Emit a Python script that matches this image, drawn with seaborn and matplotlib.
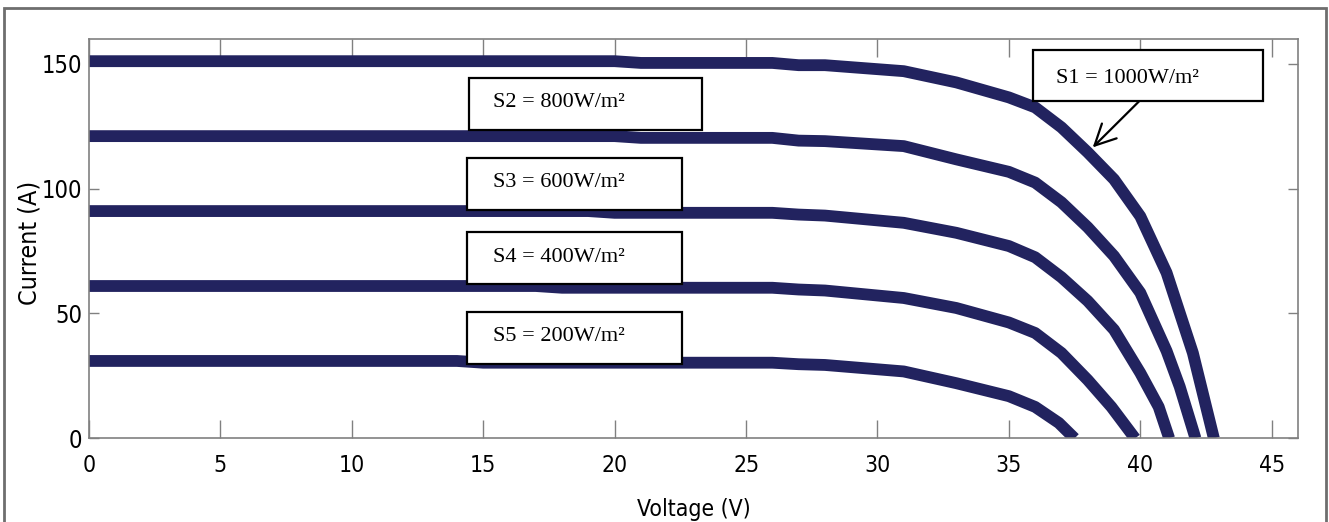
import matplotlib
matplotlib.use("Agg")
import matplotlib.pyplot as plt
from matplotlib.patches import Rectangle
import numpy as np
import pandas as pd
import seaborn as sns

# -------------------------------------------------------------------------
# DATA: I-V curves (voltage in V, current in A)
# -------------------------------------------------------------------------
v_s1 = [0, 20, 21, 26, 27, 28, 31, 33, 35, 36, 37, 38, 39, 40, 41, 42, 42.8]
i_s1 = [151, 151, 150.3, 150.3, 149.4, 149.4, 147, 142.5, 136.5, 132.5,
        124.5, 114.5, 103.7, 88.9, 66.3, 34.2, 0]

v_s2 = [0, 20, 21, 26, 27, 28, 31, 33, 35, 36, 37, 38, 39, 40, 41, 41.5, 42.1]
i_s2 = [121, 121, 120.3, 120.3, 119.2, 119, 117, 111.7, 106.7, 102.4,
        94.5, 84.5, 73, 58.3, 35, 20.7, 0]

v_s3 = [0, 19, 20, 26, 27, 28, 31, 33, 35, 36, 37, 38, 39, 40, 40.7, 41.1]
i_s3 = [91, 91, 90.3, 90.3, 89.6, 89.2, 86.3, 82.3, 77, 72.5, 64.5, 55,
        43.5, 26.2, 12.6, 0]

v_s4 = [0, 17, 18, 26, 27, 28, 31, 33, 35, 36, 37, 38, 38.9, 39.8]
i_s4 = [61, 61, 60.3, 60.3, 59.6, 59.2, 56.2, 52.2, 46.4, 42.2, 34.2, 23.4,
        12.6, 0]

v_s5 = [0, 14, 15, 26, 27, 28, 31, 33, 35, 36, 36.9, 37.5]
i_s5 = [31, 31, 30.3, 30.3, 29.7, 29.4, 26.8, 22.1, 16.9, 12.6, 6.2, 0]

series_names = ["S1", "S2", "S3", "S4", "S5"]
labels = ["S1 = 1000W/m²", "S2 = 800W/m²", "S3 = 600W/m²",
          "S4 = 400W/m²", "S5 = 200W/m²"]
x_ticks = [0, 5, 10, 15, 20, 25, 30, 35, 40, 45]
y_ticks = [0, 50, 100, 150]

frames = []
for name, v, i in zip(series_names,
                      [v_s1, v_s2, v_s3, v_s4, v_s5],
                      [i_s1, i_s2, i_s3, i_s4, i_s5]):
    frames.append(pd.DataFrame({"Voltage": v, "Current": i, "Series": name}))
df = pd.concat(frames, ignore_index=True)

# -------------------------------------------------------------------------
# LAYOUT (label boxes in data coords: x0, y0, x1, y1, text x, text y)
# -------------------------------------------------------------------------
boxes = [
    (35.91, 134.9, 44.67, 155.5, 36.78, 144.0),
    (14.47, 123.4, 23.31, 144.2, 15.38, 134.5),
    (14.39, 91.3, 22.58, 112.1, 15.38, 102.5),
    (14.39, 61.9, 22.58, 82.8, 15.38, 72.6),
    (14.39, 29.9, 22.58, 50.7, 15.38, 40.6),
]
LINE_COLOR = "#22235f"
AX_GRAY = "#808080"

sns.set_theme(style="ticks")
plt.rcParams["font.family"] = ["DejaVu Sans"]
plt.rcParams["font.stretch"] = "condensed"
plt.rcParams["text.color"] = "black"
plt.rcParams["axes.labelcolor"] = "black"

fig = plt.figure(figsize=(13.29, 5.22), dpi=100)
ax = fig.add_axes([89 / 1329, 1 - 438.4 / 522, 1209 / 1329, 399.7 / 522])

sns.lineplot(data=df, x="Voltage", y="Current", units="Series",
             estimator=None, sort=False, color=LINE_COLOR, lw=8.5,
             solid_capstyle="butt", ax=ax, zorder=2)

ax.set_xlim(0, 46)
ax.set_ylim(0, 160)
ax.set_xticks(x_ticks)
ax.set_yticks(y_ticks)

for side in ["left", "right", "top", "bottom"]:
    ax.spines[side].set_visible(True)
    ax.spines[side].set_color(AX_GRAY)
    ax.spines[side].set_linewidth(1.2)

ax.tick_params(axis="x", direction="in", length=13, width=1, color=AX_GRAY,
               top=True, labelsize=16.5, pad=11, labelcolor="black")
ax.tick_params(axis="y", direction="in", length=7.5, width=1, color=AX_GRAY,
               right=True, labelsize=17, pad=5, labelcolor="black")

ax.set_xlabel("Voltage (V)", fontsize=16.5, labelpad=15, color="black")
ax.set_ylabel("")
fig.text(30 / 1329, 1 - 243 / 522, "Current (A)", rotation=90,
         ha="center", va="center", fontsize=18, color="black")

# label boxes
for (x0, y0, x1, y1, tx, ty), lab in zip(boxes, labels):
    ax.add_patch(Rectangle((x0, y0), x1 - x0, y1 - y0, facecolor="white",
                           edgecolor="black", lw=1.6, zorder=5))
    ax.text(tx, ty, lab, fontsize=16, fontstretch="normal", color="black",
            family=["Liberation Serif", "DejaVu Serif"],
            ha="left", va="center", zorder=6)

ax.annotate("", xy=(38.19, 116.5), xytext=(39.95, 134.9),
            arrowprops=dict(arrowstyle="->,head_length=0.6,head_width=0.3",
                            lw=1.6, color="black", shrinkA=0, shrinkB=0,
                            mutation_scale=25), zorder=6)

# outer frame around the figure
fig.patches.append(Rectangle((4 / 1329, -0.2), 1322 / 1329, 1.2 - 8 / 522,
                             transform=fig.transFigure, fill=False,
                             edgecolor="#6e6e6e", lw=2, clip_on=False))

fig.savefig("out.png", dpi=100)
